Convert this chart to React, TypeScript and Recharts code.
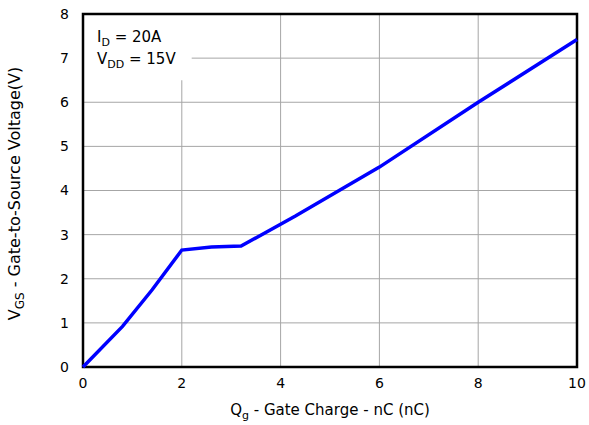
import React from "react"
import { CartesianGrid, Line, LineChart, ReferenceArea, XAxis, YAxis } from "recharts"

// gate charge (nC) vs gate-to-source voltage (V)
const qg = [0, 0.8, 1.4, 2, 2.6, 3.2, 4.3, 6, 8, 10]
const vgs = [0, 0.92, 1.75, 2.65, 2.72, 2.74, 3.42, 4.53, 6.0, 7.42]

const xTicks = [0, 2, 4, 6, 8, 10]
const yTicks = [0, 1, 2, 3, 4, 5, 6, 7, 8]

const data = qg.map((q, i) => ({ q, v: vgs[i] }))

const font = "'DejaVu Sans', sans-serif"

function YLabel(props: any) {
  const vb = props.viewBox || {}
  const cy = vb.y + vb.height / 2 + 3
  const x = 20
  return (
    <text
      transform={`translate(${x},${cy}) rotate(-90)`}
      textAnchor="middle"
      fontSize={16}
      fontFamily={font}
      fill="#000"
    >
      <tspan>V</tspan>
      <tspan fontSize={12} dy={4}>GS</tspan>
      <tspan dy={-4}> - Gate-to-Source Voltage(V)</tspan>
    </text>
  )
}

function XLabel(props: any) {
  const vb = props.viewBox || {}
  const cx = vb.x + vb.width / 2
  return (
    <text x={cx} y={415} textAnchor="middle" fontSize={15} fontFamily={font} fill="#000">
      <tspan>Q</tspan>
      <tspan fontSize={11} dy={4}>g</tspan>
      <tspan dy={-4}> - Gate Charge - nC (nC)</tspan>
    </text>
  )
}

function Note(props: any) {
  const vb = props.viewBox || {}
  const x = vb.x + 14
  return (
    <text fontSize={15} fontFamily={font} fill="#000">
      <tspan x={x} y={42}>I</tspan>
      <tspan fontSize={11} dy={4}>D</tspan>
      <tspan dy={-4}> = 20A</tspan>
      <tspan x={x} y={64}>V</tspan>
      <tspan fontSize={11} dy={4}>DD</tspan>
      <tspan dy={-4}> = 15V</tspan>
    </text>
  )
}

export default function App() {
  return (
    <div style={{ position: "absolute", left: 0, top: 0, background: "#fff" }}>
      <LineChart width={589} height={425} data={data} margin={{ top: 14, right: 12, bottom: 0, left: 0 }}>
        <CartesianGrid stroke="#a6a6a6" strokeWidth={1} />
        <XAxis
          dataKey="q"
          type="number"
          domain={[0, 10]}
          ticks={xTicks}
          height={58}
          axisLine={false}
          tickLine={false}
          tickSize={0}
          tickMargin={11}
          tick={{ fill: "#000", fontSize: 14, fontFamily: font }}
          label={<XLabel />}
        />
        <YAxis
          type="number"
          domain={[0, 8]}
          ticks={yTicks}
          width={83}
          axisLine={false}
          tickLine={false}
          tickSize={0}
          tickMargin={14}
          tick={{ fill: "#000", fontSize: 14, fontFamily: font }}
          label={<YLabel />}
        />
        <ReferenceArea x1={0} x2={2.2} y1={6.5} y2={8} fill="#fff" fillOpacity={1} stroke="none" label={<Note />} />
        <Line
          type="linear"
          dataKey="v"
          stroke="#0000ff"
          strokeWidth={3.5}
          dot={false}
          isAnimationActive={false}
        />
        <ReferenceArea x1={0} x2={10} y1={0} y2={8} fill="none" stroke="#000" strokeWidth={2.5} ifOverflow="visible" />
      </LineChart>
    </div>
  )
}
